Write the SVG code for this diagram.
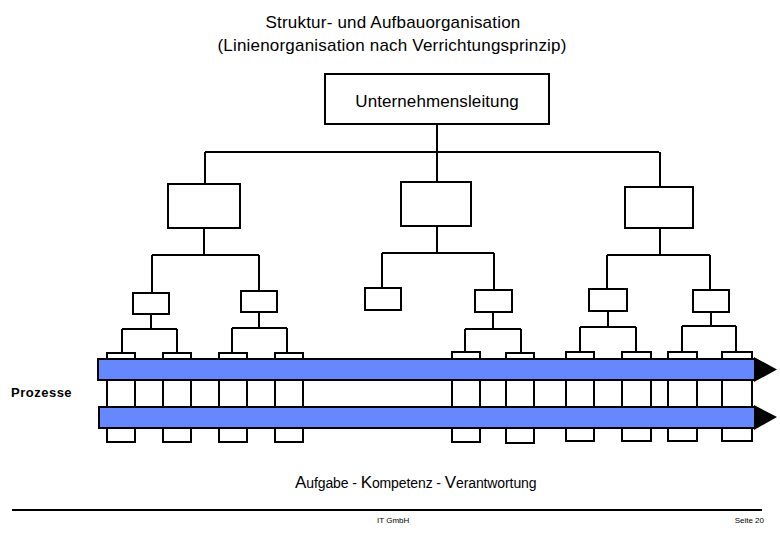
<svg xmlns="http://www.w3.org/2000/svg" width="780" height="540" viewBox="0 0 780 540">
<style>
.box{fill:#fff;stroke:#000;stroke-width:2}
.ln{fill:none;stroke:#000;stroke-width:2}
.bar{fill:#6688ff;stroke:#000;stroke-width:2}
.t{font-family:"Liberation Sans",Arial,sans-serif;fill:#000}
</style>
<rect width="780" height="540" fill="#fff"/>
<text class="t" x="393" y="28" font-size="17" letter-spacing="0.2" text-anchor="middle">Struktur- und Aufbauorganisation</text>
<text class="t" x="392" y="51" font-size="17" letter-spacing="0.2" text-anchor="middle">(Linienorganisation nach Verrichtungsprinzip)</text>

<g id="connectors">
<path class="ln" d="M437,124V152M205,152H659M205,152V184M437,152V182M660,152V187"/>
<path class="ln" d="M204,228V255M152,255H259M152,255V293M259,255V291"/>
<path class="ln" d="M437,226V253M382,253H494M382,253V288M494,253V290"/>
<path class="ln" d="M660,228V255M607,255H710M607,255V289M710,255V290"/>
<path class="ln" d="M151,314V329M122,329H177M122,329V353M177,329V353"/>
<path class="ln" d="M259,312V328M232,328H287M232,328V353M287,328V353"/>
<path class="ln" d="M493,312V329M465,329H521M465,329V352M521,329V353"/>
<path class="ln" d="M608,311V327M580,327H636M580,327V352M636,327V352"/>
<path class="ln" d="M711,312V326M682,326H736M682,326V352M736,326V352"/>
</g>

<g id="n-root"><rect class="box" x="325" y="74" width="224" height="50"/>
<text class="t" x="437" y="107" font-size="17" letter-spacing="0.1" text-anchor="middle">Unternehmensleitung</text></g>

<g id="n-l2a"><rect class="box" x="168" y="184" width="72" height="44"/></g>
<g id="n-l2b"><rect class="box" x="401" y="182" width="70" height="44"/></g>
<g id="n-l2c"><rect class="box" x="625" y="187" width="68" height="41"/></g>

<g id="n-l3a"><rect class="box" x="133" y="293" width="36" height="21"/></g>
<g id="n-l3b"><rect class="box" x="241" y="291" width="36" height="21"/></g>
<g id="n-l3c"><rect class="box" x="365" y="288" width="36" height="22"/></g>
<g id="n-l3d"><rect class="box" x="475" y="290" width="37" height="22"/></g>
<g id="n-l3e"><rect class="box" x="589" y="289" width="38" height="22"/></g>
<g id="n-l3f"><rect class="box" x="693" y="290" width="36" height="22"/></g>

<g id="n-l4a"><rect class="box" x="107" y="353" width="28" height="89"/></g>
<g id="n-l4b"><rect class="box" x="163" y="353" width="28" height="89"/></g>
<g id="n-l4c"><rect class="box" x="219" y="353" width="28" height="89"/></g>
<g id="n-l4d"><rect class="box" x="275" y="353" width="28" height="89"/></g>
<g id="n-l4e"><rect class="box" x="452" y="352" width="28" height="90"/></g>
<g id="n-l4f"><rect class="box" x="506" y="353" width="28" height="90"/></g>
<g id="n-l4g"><rect class="box" x="566" y="352" width="28" height="89"/></g>
<g id="n-l4h"><rect class="box" x="622" y="352" width="29" height="89"/></g>
<g id="n-l4i"><rect class="box" x="668" y="352" width="29" height="89"/></g>
<g id="n-l4j"><rect class="box" x="722" y="352" width="30" height="89"/></g>

<g id="n-proc1"><rect class="bar" x="98" y="359" width="657" height="21"/>
<polygon points="754,357 777,369.5 754,382" fill="#000"/></g>
<g id="n-proc2"><rect class="bar" x="99" y="407" width="656" height="21"/>
<polygon points="754,405 777,417 754,430" fill="#000"/></g>

<text class="t" x="11" y="397" font-size="13" font-weight="bold" letter-spacing="0.5">Prozesse</text>

<text class="t" x="295" y="488" font-size="14" letter-spacing="-0.1"><tspan font-size="17">A</tspan>ufgabe - <tspan font-size="17">K</tspan>ompetenz - <tspan font-size="17">V</tspan>erantwortung</text>

<line x1="12" y1="510" x2="762" y2="510" stroke="#000" stroke-width="2"/>
<text class="t" x="377" y="523" font-size="8">IT GmbH</text>
<text class="t" x="764" y="523" font-size="8" text-anchor="end">Seite 20</text>
</svg>
